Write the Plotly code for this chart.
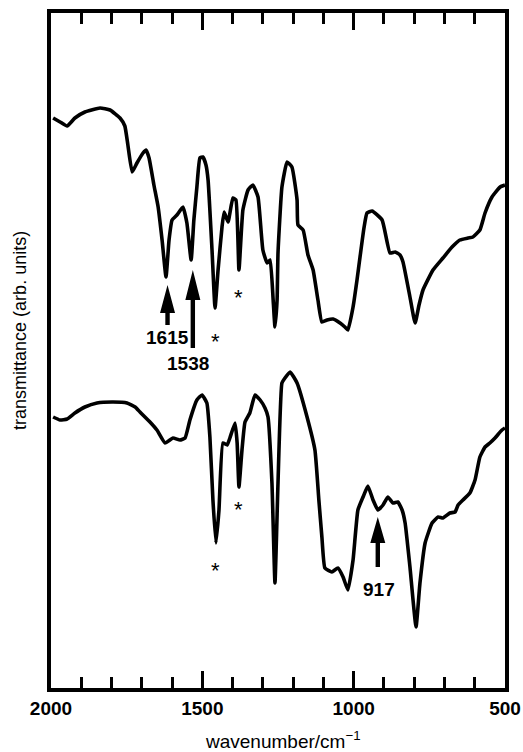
import numpy as np
import plotly.graph_objects as go

# ---- data (wavenumber in cm^-1, transmittance in arb. units) ----
upper_wn = [1993, 1970, 1947, 1921, 1888, 1838, 1805, 1772, 1756, 1746, 1732, 1716, 1696, 1686,
            1676, 1660, 1646, 1633, 1620, 1610, 1600, 1584, 1564, 1551, 1537, 1528, 1518, 1508,
            1498, 1488, 1481, 1468, 1458, 1448, 1435, 1428, 1415, 1399, 1389, 1379, 1366, 1349,
            1333, 1316, 1300, 1286, 1276, 1266, 1260, 1253, 1250, 1237, 1220, 1204, 1187, 1184,
            1167, 1151, 1134, 1118, 1105, 1088, 1068, 1045, 1029, 1019, 1002, 989, 979, 966,
            956, 939, 906, 880, 863, 847, 837, 814, 797, 784, 771, 738, 705, 675, 649, 622,
            606, 583, 566, 543, 516, 500]
upper_t = [570, 566, 562, 570, 576, 580, 578, 570, 562, 543, 516, 525, 535, 538,
           530, 503, 481, 448, 411, 448, 468, 473, 481, 465, 428, 468, 501, 530,
           531, 523, 508, 438, 380, 418, 461, 476, 466, 490, 488, 418, 478, 498,
           503, 491, 438, 425, 428, 388, 361, 388, 435, 501, 526, 521, 488, 463,
           458, 433, 418, 388, 366, 368, 369, 365, 361, 358, 381, 408, 431, 460,
           475, 477, 468, 435, 436, 433, 426, 391, 365, 383, 398, 418, 430, 441, 448, 450,
           451, 458, 475, 491, 501, 503]

lower_wn = [1993, 1970, 1947, 1921, 1888, 1848, 1795, 1749, 1722, 1706, 1673, 1650, 1623, 1597,
            1574, 1557, 1541, 1518, 1501, 1485, 1475, 1465, 1455, 1445, 1432, 1418, 1409, 1392,
            1385, 1379, 1369, 1359, 1343, 1326, 1309, 1293, 1283, 1270, 1260, 1250, 1237, 1227,
            1210, 1187, 1154, 1128, 1115, 1105, 1095, 1072, 1052, 1035, 1019, 1002, 986, 969,
            953, 936, 920, 903, 887, 870, 854, 840, 830, 814, 794, 781, 764, 741, 721, 705,
            682, 665, 655, 639, 616, 599, 583, 566, 550, 533, 510, 500]
lower_t = [271, 268, 269, 275, 281, 285, 286, 285, 281, 276, 266, 258, 245, 250,
           248, 250, 268, 288, 293, 285, 251, 188, 145, 178, 245, 243, 250, 265,
           245, 201, 238, 266, 275, 293, 288, 280, 271, 205, 105, 205, 305, 310,
           316, 305, 271, 238, 188, 151, 120, 116, 120, 111, 98, 128, 178, 191,
           202, 188, 178, 183, 191, 185, 186, 178, 165, 121, 61, 105, 145, 165, 171, 170,
           175, 176, 183, 188, 195, 208, 231, 241, 245, 250, 258, 260]

# axis ticks (cm^-1)
major_ticks = [2000, 1500, 1000, 500]

# annotated bands: (label, wavenumber, which curve)
arrow_bands = [("1615", 1615, "upper"), ("1538", 1538, "upper"), ("917", 917, "lower")]
star_bands = [(1460, "upper"), (1378, "upper"), (1460, "lower"), (1378, "lower")]

Y_RANGE = [0, 675]

curves = {"upper": (np.array(upper_wn), np.array(upper_t)),
          "lower": (np.array(lower_wn), np.array(lower_t))}


def band_point(wn, which, win=10):
    w, t = curves[which]
    m = np.abs(w - wn) <= win
    i = np.argmin(np.where(m, t, np.inf))
    return w[i], t[i]


fig = go.Figure()
for key in ["upper", "lower"]:
    w, t = curves[key]
    fig.add_trace(go.Scatter(x=w, y=t, mode="lines",
                             line=dict(color="black", width=3.6, shape="spline", smoothing=0.4),
                             hoverinfo="skip", showlegend=False))

FONT = "Liberation Sans, Arial, Helvetica, sans-serif"
num_font = dict(family=FONT, size=19, color="black", weight="bold")

shapes = []
annotations = []

# arrow geometry in pixels: gap below curve, head length, total length, label offsets
arrow_style = {
    "1615": dict(gap=8, head=28, length=40, dx=0, tx=0, ty=-60),
    "1538": dict(gap=10, head=30, length=78, dx=2, tx=-3, ty=-103),
    "917": dict(gap=7, head=26, length=50, dx=-1, tx=0, ty=-79),
}
for label, wn, which in arrow_bands:
    bx, by = band_point(wn, which)
    s = arrow_style[label]
    g, h, L, dx = s["gap"], s["head"], s["length"], s["dx"]
    hw, sw = 7.5, 2.2
    path = (f"M{dx},{-g} L{dx+hw},{-g-h} L{dx+sw},{-g-h} L{dx+sw},{-g-L} "
            f"L{dx-sw},{-g-L} L{dx-sw},{-g-h} L{dx-hw},{-g-h} Z")
    shapes.append(dict(type="path", xref="x", yref="y", xsizemode="pixel", ysizemode="pixel",
                       xanchor=wn, yanchor=by, path=path, fillcolor="black",
                       line=dict(width=0)))
    annotations.append(dict(x=wn, y=by, xref="x", yref="y", text=label, showarrow=False,
                            font=num_font, xanchor="center", yanchor="middle",
                            yshift=s["ty"], xshift=s["tx"]))

star_shift = {(1460, "upper"): -33, (1378, "upper"): -27, (1460, "lower"): -27, (1378, "lower"): -22}
for wn, which in star_bands:
    bx, by = band_point(wn, which, win=8)
    annotations.append(dict(x=bx, y=by, xref="x", yref="y", text="*", showarrow=False,
                            font=dict(family=FONT, size=22, color="black"),
                            xanchor="center", yanchor="middle", yshift=star_shift[(wn, which)]))

# axis titles
annotations.append(dict(x=0, y=0.529, xref="paper", yref="paper", xshift=-31,
                        text="transmittance (arb. units)", textangle=-90, showarrow=False,
                        font=dict(family=FONT, size=18, color="black"),
                        xanchor="center", yanchor="middle"))
annotations.append(dict(x=0.335, y=0, xref="paper", yref="paper", yshift=-52,
                        text="wavenumber/cm<sup>\u22121</sup>", showarrow=False,
                        font=dict(family=FONT, size=19, color="black"),
                        xanchor="left", yanchor="middle"))

fig.update_layout(
    template="none",
    width=523, height=752,
    margin=dict(l=51, r=18, t=13, b=64),
    paper_bgcolor="white", plot_bgcolor="white",
    shapes=shapes, annotations=annotations,
    xaxis=dict(range=[2000, 500], showgrid=False, zeroline=False, automargin=False,
               showline=True, linecolor="black", linewidth=3.5, mirror="allticks",
               tickvals=major_ticks, ticktext=[str(v) for v in major_ticks],
               ticks="inside", ticklen=17, tickwidth=3, tickcolor="black",
               tickfont=num_font,
               minor=dict(tickmode="linear", tick0=500, dtick=100, ticks="inside",
                          ticklen=11, tickwidth=3, tickcolor="black", showgrid=False)),
    yaxis=dict(range=Y_RANGE, showgrid=False, zeroline=False, showticklabels=False,
               automargin=False,
               showline=True, linecolor="black", linewidth=3.5, mirror=True, ticks=""),
)

fig.write_html("out.html", config={"displayModeBar": False},
               post_script="document.body.style.margin='0px';")
